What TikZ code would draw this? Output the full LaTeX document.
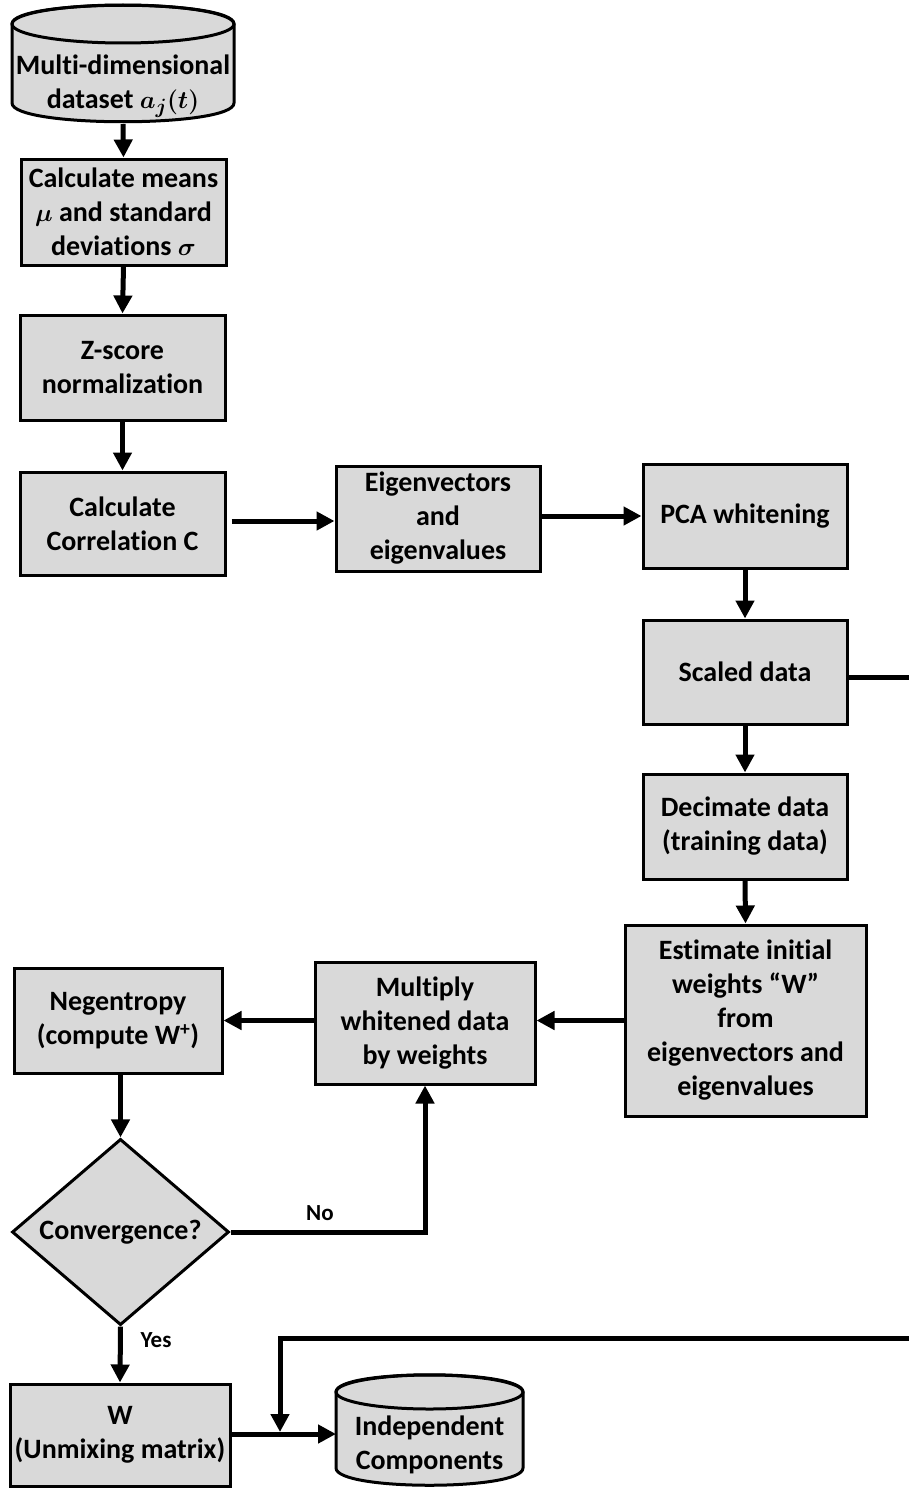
\documentclass[tikz,border=0pt]{standalone}
\usepackage{fontspec}
\setmainfont{Carlito}[Ligatures=NoCommon]
\usetikzlibrary{shapes.geometric,arrows.meta}
\definecolor{boxgray}{HTML}{D9D9D9}
\begin{document}
\begin{tikzpicture}[x=1pt,y=-1pt,
  txt/.style={font=\fontsize{28}{34}\selectfont\bfseries\boldmath, align=center},
  box/.style={txt, draw, line width=3pt, fill=boxgray, inner sep=0pt},
  conn/.style={line width=5pt, -{Triangle[length=18pt,width=18pt]}},
  plain/.style={line width=5pt},
  lbl/.style={font=\fontsize{23}{28}\selectfont\bfseries}
]
\useasboundingbox (0,0) rectangle (908,1488);

% cylinder 1
\draw[line width=3pt, fill=boxgray] (12,24) -- (12,103) .. controls (12,128) and (234,128) .. (234,103) -- (234,24) .. controls (234,-1) and (12,-1) .. (12,24) -- cycle;
\draw[line width=3pt] (123,24) ellipse [x radius=111pt, y radius=19pt];
\node[txt, minimum width=222pt, minimum height=60pt] (cyl1) at (123,86) {Multi-dimensional\\dataset $a_j(t)$};
\coordinate (cyl1b) at (123,124);

\node[box, minimum width=205pt, minimum height=106pt] (b2) at (123.5,212) {\raisebox{-3pt}{\parbox{200pt}{\centering Calculate means\\$\mu$ and standard\\deviations $\sigma$}}};
\node[box, minimum width=205pt, minimum height=105pt] (b3) at (122.5,367.5) {Z-score\\normalization};
\node[box, minimum width=205pt, minimum height=103pt] (b4) at (122.5,523.5) {Calculate\\Correlation $\mathrm{C}$};
\node[box, minimum width=204pt, minimum height=105pt] (b5) at (438,518.5) {Eigenvectors\\and\\eigenvalues};
\node[box, minimum width=204pt, minimum height=104pt] (b6) at (745,516) {PCA whitening};
\node[box, minimum width=204pt, minimum height=104pt] (b7) at (745,672) {Scaled data};
\node[box, minimum width=204pt, minimum height=105pt] (b8) at (745,826.5) {Decimate data\\(training data)};
\node[box, minimum width=241pt, minimum height=191pt] (b9) at (745.5,1020.5) {Estimate initial\\weights “W”\\from\\eigenvectors and\\eigenvalues};
\node[box, minimum width=220pt, minimum height=122pt] (b10) at (425,1023) {Multiply\\whitened data\\by weights};
\node[box, minimum width=208pt, minimum height=105pt] (b11) at (118,1020.5) {Negentropy\\(compute W\textsuperscript{+})};
\node[box, shape=diamond, minimum width=217pt, minimum height=182pt] (dia) at (120.5,1232) {Convergence?};
\node[box, minimum width=220pt, minimum height=102pt] (b12) at (120,1435) {W\\(Unmixing matrix)};

% cylinder 2
\draw[line width=3pt, fill=boxgray] (336,1392) -- (336,1468) .. controls (336,1491) and (523,1491) .. (523,1468) -- (523,1392) .. controls (523,1369) and (336,1369) .. (336,1392) -- cycle;
\draw[line width=3pt] (429.5,1392) ellipse [x radius=93.5pt, y radius=17pt];
\node[txt, minimum width=187pt, minimum height=70pt] (cyl2) at (429.5,1445) {Independent\\Components};
\coordinate (cyl2w) at (336,1434);

% connectors
\coordinate (h45) at (0,521);
\draw[conn] (cyl1b) -- (b2.north);
\draw[conn] (b2.south) -- (b3.north);
\draw[conn] (b3.south) -- (b4.north);
\draw[conn, shorten <=5pt] (b4.east |- h45) -- (b5.west |- h45);
\draw[conn] (b5.east |- b6.east) -- (b6.west);
\draw[conn] (b6.south) -- (b7.north);
\draw[conn] (b7.south) -- (b8.north);
\draw[conn] (b8.south) -- (b9.north);
\draw[conn] (b9.west) -- (b10.east |- b9.west);
\draw[conn] (b10.west |- b9.west) -- (b11.east |- b9.west);
\draw[conn] (b11.south -| dia.north) -- (dia.north);
\draw[conn] (dia.east) -| (b10.south);
\draw[conn] (dia.south) -- (b12.north);
\draw[conn] (b12.east |- cyl2w) -- (cyl2w);

\node[lbl] (no) at (320,1213) {No};
\node[lbl] (yes) at (156,1340) {Yes};

% off-page link
\coordinate (r1) at (910,677);
\coordinate (r2) at (910,1338);
\coordinate (jn) at (280,1432);
\draw[plain] (b7.east |- r1) -- (r1);
\draw[conn] (r2) -| (jn);
\end{tikzpicture}
\end{document}
